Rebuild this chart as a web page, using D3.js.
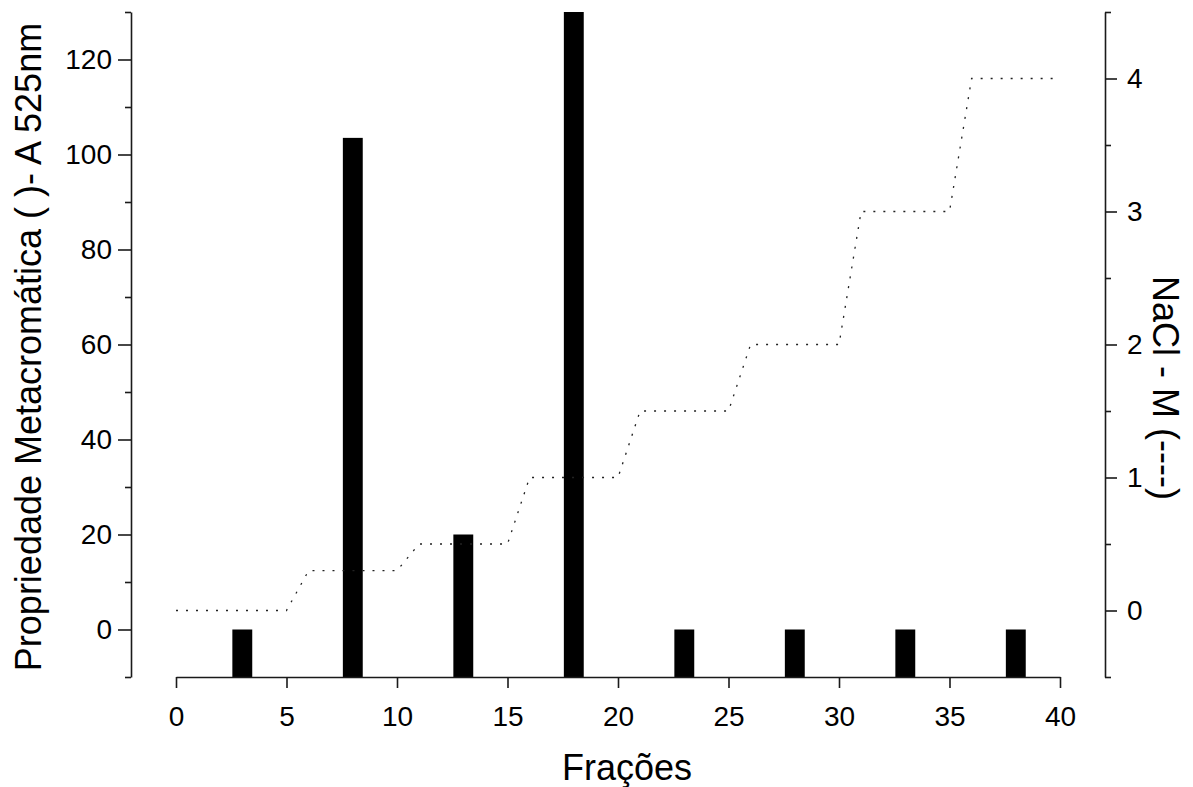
<!DOCTYPE html>
<html>
<head>
<meta charset="utf-8">
<script src="https://cdn.jsdelivr.net/npm/d3@7"></script>
<style>
  html, body { margin: 0; padding: 0; background: #fff; }
  svg { display: block; font-family: "Liberation Sans", Arial, sans-serif; }
</style>
</head>
<body>
<svg id="chart" width="1193" height="787"></svg>
<script>
// ---- data ----
const fractions = [3, 8, 13, 18, 23, 28, 33, 38];
const metachromatic = [0, 103.5, 20, 130, 0, 0, 0, 0];
const naclX = [0, 5, 6, 10, 11, 15, 16, 20, 21, 25, 26, 30, 31, 35, 36, 40];
const naclM = [0, 0, 0.3, 0.3, 0.5, 0.5, 1, 1, 1.5, 1.5, 2, 2, 3, 3, 4, 4];
const xTicks = [0, 5, 10, 15, 20, 25, 30, 35, 40];
const yLeftTicks = [0, 20, 40, 60, 80, 100, 120];
const yLeftMinor = [-10, 10, 30, 50, 70, 90, 110, 130];
const yRightTicks = [0, 1, 2, 3, 4];
const yRightMinor = [-0.5, 0.5, 1.5, 2.5, 3.5, 4.5];
const xLabel = "Frações";
const yLeftLabel = "Propriedade Metacromática ( )- A 525nm";
const yRightLabel = "NaCl - M (----)";

// ---- layout ----
const svg = d3.select("#chart");
const x = d3.scaleLinear().domain([0, 40]).range([176, 1060]);
const yL = d3.scaleLinear().domain([-10, 130]).range([677, 12]);
const yR = d3.scaleLinear().domain([-0.5, 4.5]).range([677, 12]);
const leftX = 131, rightX = 1105, bottomY = 677;
const axisColor = "#1a1a1a";
const tickFont = 28;
const barW = x(0.9) - x(0);

// bars
svg.append("g").selectAll("rect")
  .data(fractions.map((f, i) => ({ f, v: metachromatic[i] })))
  .join("rect")
  .attr("x", d => x(d.f) - barW / 2)
  .attr("width", barW)
  .attr("y", d => yL(d.v))
  .attr("height", d => yL(-10) - yL(d.v))
  .attr("fill", "#000");

// NaCl dotted line
const line = d3.line().x(d => x(d[0])).y(d => yR(d[1]));
svg.append("path")
  .datum(naclX.map((v, i) => [v, naclM[i]]))
  .attr("d", line)
  .attr("fill", "none")
  .attr("stroke", "#222")
  .attr("stroke-width", 1.3)
  .attr("stroke-dasharray", "2,8");

function styleAxis(g) {
  g.select(".domain").attr("stroke", axisColor).attr("stroke-width", 1.6);
  g.selectAll(".tick line").attr("stroke", axisColor).attr("stroke-width", 1.6);
  g.selectAll(".tick text").attr("fill", "#000").attr("font-size", tickFont)
    .attr("font-family", "'Liberation Sans', Arial, sans-serif");
}

// left axis
const gL = svg.append("g").attr("transform", `translate(${leftX},0)`)
  .call(d3.axisLeft(yL).tickValues(yLeftTicks).tickSize(13).tickSizeOuter(0).tickPadding(6));
styleAxis(gL);
const gLm = svg.append("g").attr("transform", `translate(${leftX},0)`)
  .call(d3.axisLeft(yL).tickValues(yLeftMinor).tickSize(6).tickFormat(""));
gLm.select(".domain").remove();
styleAxis(gLm);

// right axis
const gR = svg.append("g").attr("transform", `translate(${rightX},0)`)
  .call(d3.axisRight(yR).tickValues(yRightTicks).tickFormat(d3.format("d"))
    .tickSize(12).tickSizeOuter(0).tickPadding(10));
styleAxis(gR);
const gRm = svg.append("g").attr("transform", `translate(${rightX},0)`)
  .call(d3.axisRight(yR).tickValues(yRightMinor).tickSize(6).tickFormat(""));
gRm.select(".domain").remove();
styleAxis(gRm);

// bottom axis
const gB = svg.append("g").attr("transform", `translate(0,${bottomY})`)
  .call(d3.axisBottom(x).tickValues(xTicks).tickSize(11).tickSizeOuter(0).tickPadding(18));
styleAxis(gB);

// axis titles
svg.append("text")
  .attr("transform", `translate(41,347) rotate(-90)`)
  .attr("text-anchor", "middle")
  .attr("font-size", 36)
  .text(yLeftLabel);

svg.append("text")
  .attr("transform", `translate(1153,388) rotate(90)`)
  .attr("text-anchor", "middle")
  .attr("font-size", 36)
  .text(yRightLabel);

svg.append("text")
  .attr("x", 627).attr("y", 780)
  .attr("text-anchor", "middle")
  .attr("font-size", 36)
  .text(xLabel);
</script>
</body>
</html>
